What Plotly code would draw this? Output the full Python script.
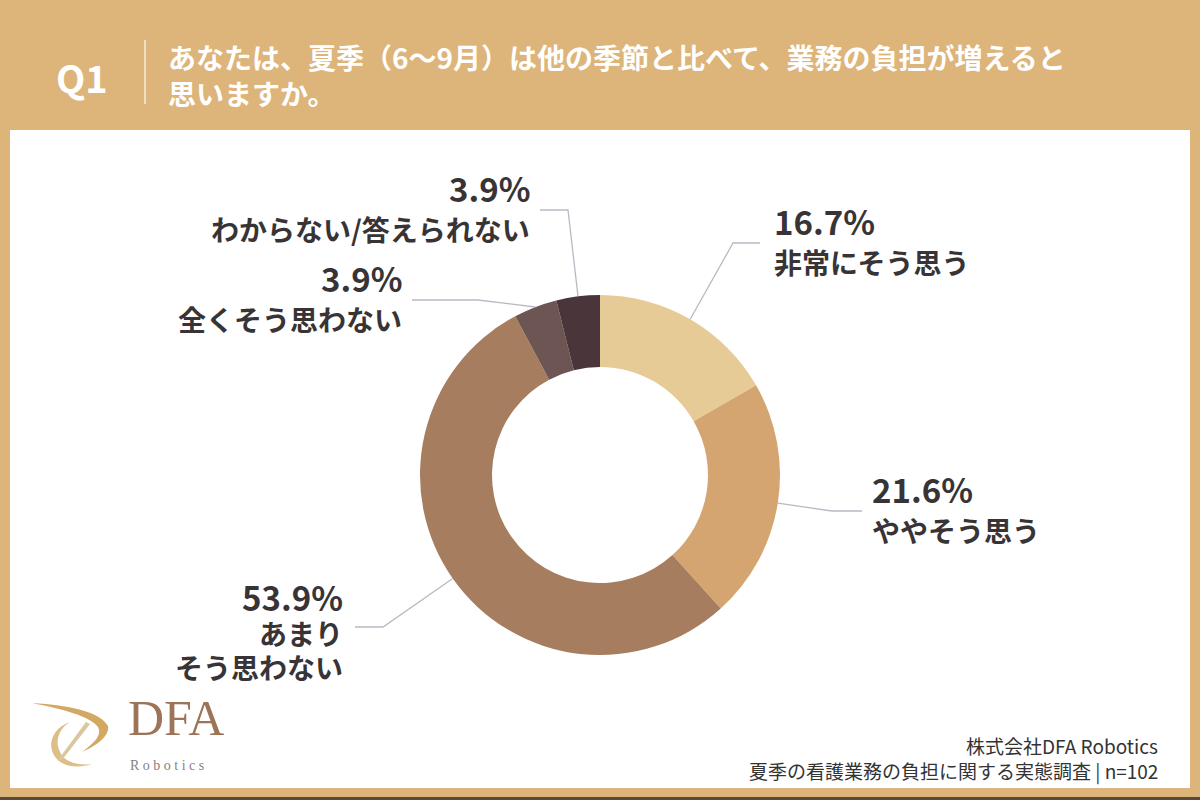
import math
import plotly.graph_objects as go

# ---- data ----
categories = ["非常にそう思う", "ややそう思う", "あまり<br>そう思わない", "全くそう思わない", "わからない/答えられない"]
values = [16.7, 21.6, 53.9, 3.9, 3.9]
colors = ["#E6CB97", "#D4A471", "#A67D5E", "#6C5552", "#4A363A"]
title_q = "Q1"
title_text = "あなたは、夏季（6〜9月）は他の季節と比べて、業務の負担が増えると<br>思いますか。"
footer_lines = ["株式会社DFA Robotics", "夏季の看護業務の負担に関する実態調査 | n=102"]

# ---- layout constants (pixels) ----
W, H = 1200, 800
CX, CY, R = 600, 475, 180
# label layout: (elbow x, elbow y, end x, text x, anchor)
label_layout = [
    (733, 243, 760, 772, "left"),
    (832, 511, 862, 870, "left"),
    (383, 627, 355, 345, "right"),
    (478, 300, 412, 404, "right"),
    (568, 210, 540, 532, "right"),
]
FONT = "Noto Sans CJK JP"
TXT = "#383436"
LINE = "#B9B9C4"

fig = go.Figure()
fig.add_trace(go.Pie(
    labels=categories, values=values, sort=False, direction="clockwise", rotation=0,
    hole=0.6, marker=dict(colors=colors, line=dict(width=0)),
    textinfo="none", hoverinfo="label+percent", showlegend=False,
    domain=dict(x=[(CX - R) / W, (CX + R) / W], y=[1 - (CY + R) / H, 1 - (CY - R) / H]),
))

shapes = []
annotations = []

# background panel
shapes.append(dict(type="rect", xref="x", yref="y", x0=10, x1=1190, y0=130, y1=788,
                   fillcolor="white", line=dict(width=0), layer="below"))
shapes.append(dict(type="rect", xref="x", yref="y", x0=0, x1=1200, y0=797, y1=800,
                   fillcolor="#5A4A38", line=dict(width=0), layer="below"))
# header divider
shapes.append(dict(type="line", xref="x", yref="y", x0=145, x1=145, y0=40, y1=104,
                   line=dict(color="rgba(255,255,255,0.75)", width=1.5)))

# leader lines computed from data
total = sum(values)
cum = 0
for v, cat, (ex, ey, endx, tx, anchor) in zip(values, categories, label_layout):
    mid = (cum + v / 2) / total * 2 * math.pi
    cum += v
    sx = CX + R * math.sin(mid)
    sy = CY - R * math.cos(mid)
    path = f"M {sx:.1f} {sy:.1f} L {ex} {ey} L {endx} {ey}"
    shapes.append(dict(type="path", xref="x", yref="y", path=path,
                       line=dict(color=LINE, width=1.3)))
    pct = f"{v:.1f}%"
    lines = cat.split("<br>")
    text = f"<span style='font-size:33px'>{pct}</span>" + "".join(
        f"<br><span style='font-size:28px'>{ln}</span>" for ln in lines)
    n = len(lines) + 1
    spacing = 26 * 1.3 if n > 2 else 40
    if n > 2:
        cy_text = ey - 31 + spacing * (n - 1) / 2
        annotations.append(dict(x=tx, y=cy_text, xref="x", yref="y", text=text, showarrow=False,
                                xanchor=anchor, yanchor="middle", align=anchor,
                                font=dict(family=FONT, size=26, color=TXT, weight=700)))
    else:
        annotations.append(dict(x=tx, y=ey - 22, xref="x", yref="y", text=pct, showarrow=False,
                                xanchor=anchor, yanchor="middle",
                                font=dict(family=FONT, size=33, color=TXT, weight=700)))
        annotations.append(dict(x=tx, y=ey + 19, xref="x", yref="y", text=cat, showarrow=False,
                                xanchor=anchor, yanchor="middle",
                                font=dict(family=FONT, size=28, color=TXT, weight=700)))

# header text
annotations.append(dict(x=54, y=76, xref="x", yref="y", text=title_q, showarrow=False,
                        xanchor="left", yanchor="middle",
                        font=dict(family=FONT, size=38, color="white", weight=700)))
annotations.append(dict(x=166, y=75, xref="x", yref="y", text=title_text, showarrow=False,
                        xanchor="left", yanchor="middle", align="left",
                        font=dict(family=FONT, size=28, color="white", weight=700)))

# footer
for i, ln in enumerate(footer_lines):
    annotations.append(dict(x=1160, y=745 + 26 * i, xref="x", yref="y", text=ln,
                            showarrow=False, xanchor="right", yanchor="middle",
                            font=dict(family=FONT, size=19, color="#333333")))

# logo
annotations.append(dict(x=126, y=718, xref="x", yref="y", text="DFA", showarrow=False,
                        xanchor="left", yanchor="middle",
                        font=dict(family="Liberation Serif", size=50, color="#9C7458")))
annotations.append(dict(x=128, y=765, xref="x", yref="y", text="R o b o t i c s", showarrow=False,
                        xanchor="left", yanchor="middle",
                        font=dict(family="Liberation Serif", size=14, color="#8A8085")))
shapes.append(dict(type="path", xref="x", yref="y",
                   path="M 32 703 C 70 705 100 712 108 726 C 110 736 96 746 82 752 "
                        "C 96 742 102 734 98 727 C 90 716 62 709 32 703 Z",
                   fillcolor="#D2A862", line=dict(width=0)))
shapes.append(dict(type="path", xref="x", yref="y",
                   path="M 70 722 C 52 728 46 746 56 758 C 64 768 80 768 92 764 "
                        "C 78 766 64 762 60 752 C 54 740 60 728 70 722 Z",
                   fillcolor="#DDBE86", line=dict(width=0)))
shapes.append(dict(type="path", xref="x", yref="y",
                   path="M 58 760 L 86 722 L 90 724 L 62 760 Z",
                   fillcolor="#D9C7A0", line=dict(width=0)))

fig.update_layout(
    width=W, height=H, margin=dict(l=0, r=0, t=0, b=0),
    paper_bgcolor="#DDB479", plot_bgcolor="rgba(0,0,0,0)",
    xaxis=dict(range=[0, W], visible=False, fixedrange=True),
    yaxis=dict(range=[H, 0], visible=False, fixedrange=True),
    shapes=shapes, annotations=annotations,
)
fig.write_html("out.html")
